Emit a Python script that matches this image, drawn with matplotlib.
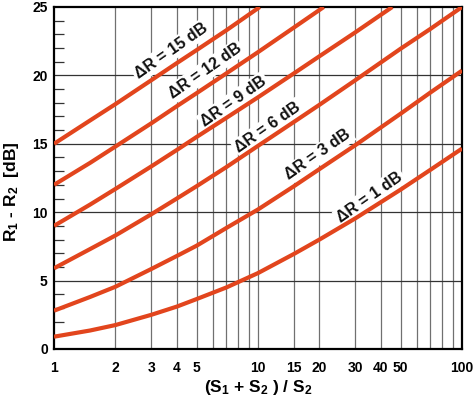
import matplotlib.pyplot as plt
from matplotlib.ticker import FixedLocator, NullFormatter

plt.rcParams['font.family'] = ['Liberation Sans', 'DejaVu Sans']
plt.rcParams['font.weight'] = 'bold'
plt.rcParams['mathtext.fontset'] = 'custom'
plt.rcParams['mathtext.rm'] = 'Liberation Sans:bold'
plt.rcParams['mathtext.it'] = 'Liberation Sans:bold'
plt.rcParams['mathtext.bf'] = 'Liberation Sans:bold'

# values, x = (S1+S2)/S2, y = R1 - R2 [dB]
x_1 = [1, 1.5, 2, 3, 4, 5, 7, 10, 15, 20, 30, 50, 70, 100]
y_1 = [0.9, 1.35, 1.75, 2.5, 3.1, 3.65, 4.5, 5.55, 6.95, 8.0, 9.55, 11.65, 13.1, 14.65]

x_3 = [1, 1.5, 2, 3, 4, 5, 7, 10, 15, 20, 30, 50, 70, 100]
y_3 = [2.8, 3.8, 4.55, 5.85, 6.8, 7.55, 8.85, 10.2, 11.9, 13.15, 14.9, 17.2, 18.75, 20.35]

x_6 = [1, 1.5, 2, 3, 4, 5, 7, 10, 15, 20, 30, 50, 70, 100]
y_6 = [5.9, 7.3, 8.3, 9.85, 11.0, 11.9, 13.3, 14.85, 16.6, 17.85, 19.65, 21.95, 23.4, 25.0]

x_9 = [1, 1.5, 2, 3, 4, 5, 7, 10, 15, 20, 30, 45.5]
y_9 = [9.0, 10.55, 11.7, 13.35, 14.55, 15.5, 16.9, 18.4, 20.15, 21.4, 23.15, 25.0]

x_12 = [1, 1.5, 2, 3, 4, 5, 7, 10, 15, 21]
y_12 = [12.0, 13.6, 14.8, 16.5, 17.75, 18.7, 20.15, 21.7, 23.5, 25.0]

x_15 = [1, 1.5, 2, 3, 4, 5, 7, 10.2]
y_15 = [15.0, 16.7, 17.9, 19.65, 20.9, 21.85, 23.3, 25.0]

curves = [(x_1, y_1), (x_3, y_3), (x_6, y_6), (x_9, y_9), (x_12, y_12), (x_15, y_15)]

labels = ['ΔR = 1 dB', 'ΔR = 3 dB', 'ΔR = 6 dB', 'ΔR = 9 dB', 'ΔR = 12 dB', 'ΔR = 15 dB']
label_x = [35.4, 19.7, 11.2, 7.6, 5.5, 3.75]
label_y = [11.1, 14.2, 16.2, 18.1, 20.3, 21.8]

xticks = [1, 2, 3, 4, 5, 10, 15, 20, 30, 40, 50, 100]
xgrid = [2, 3, 4, 5, 6, 7, 8, 9, 10, 15, 20, 30, 40, 50, 60, 70, 80, 90]
yticks = [0, 5, 10, 15, 20, 25]

fig = plt.figure(figsize=(4.75, 4.0), dpi=100)
ax = fig.add_axes([0.1137, 0.1275, 0.859, 0.855])

red = '#e2451d'

# grid
for gx in xgrid:
    ax.axvline(gx, color='#707070', lw=0.9, zorder=1)
for gy in [5, 10, 15, 20]:
    ax.axhline(gy, color='#333333', lw=0.9, zorder=1)

for (xs, ys) in curves:
    ax.plot(xs, ys, color=red, lw=3.0, solid_capstyle='butt', zorder=3)

for txt, lx, ly in zip(labels, label_x, label_y):
    ax.text(lx, ly, txt, rotation=35, rotation_mode='anchor', ha='center', va='center',
            fontsize=11.5, fontweight='bold', color='#111111', zorder=2,
            bbox=dict(fc='white', ec='none', pad=1.5))

ax.set_xscale('log')
ax.set_xlim(1, 100)
ax.set_ylim(0, 25)

ax.xaxis.set_major_locator(FixedLocator(xticks))
ax.xaxis.set_minor_locator(FixedLocator([]))
ax.xaxis.set_minor_formatter(NullFormatter())
ax.set_xticklabels([str(t) for t in xticks])
ax.set_yticks(yticks)
ax.yaxis.set_minor_locator(FixedLocator([v for v in range(26) if v % 5 != 0]))

ax.tick_params(axis='x', which='major', length=0, pad=9, labelsize=10)
ax.tick_params(axis='y', which='major', length=0, pad=4.5, labelsize=10)
ax.tick_params(axis='y', which='minor', direction='in', length=7, width=0.9, color='#333333')

for s in ax.spines.values():
    s.set_linewidth(1.6)
    s.set_color('black')

ax.set_xlabel('(S$_1$ + S$_2$ ) / S$_2$', fontsize=12.5, fontweight='bold', labelpad=2)
ax.set_ylabel('R$_1$ - R$_2$  [dB]', fontsize=12.5, fontweight='bold')
ax.yaxis.set_label_coords(-0.08, 0.46)

fig.savefig('out.png', dpi=100)
